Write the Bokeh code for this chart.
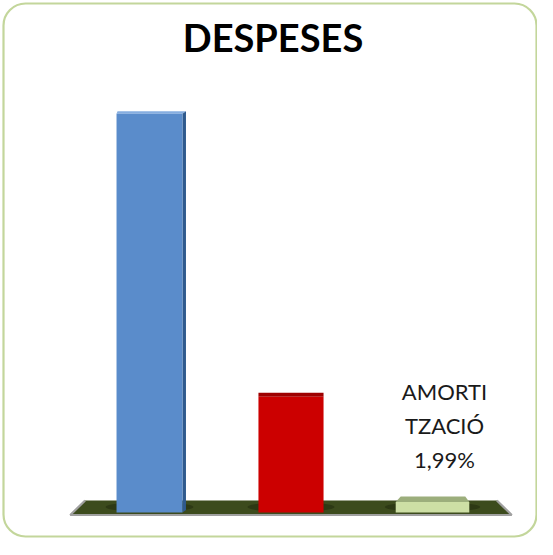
from bokeh.plotting import figure
from bokeh.models import Range1d
from bokeh.core.properties import value
from bokeh.embed import file_html
from bokeh.resources import INLINE

# ---------------- data ----------------
title_text = "DESPESES"
categories = ["DESPESA 1", "DESPESA 2", "AMORTITZACIÓ"]
values = [75.8, 22.0, 1.99]                     # percent
label_lines = [[], [], ["AMORTI", "TZACIÓ", "1,99%"]]

# ---------------- styles ----------------
front_colors = ["#5a8ccb", "#cc0000", "#cddfa5"]
top_colors = ["#86aee0", "#9e0000", "#9cae7c"]
side_colors = ["#2f5a8e", "#8e0000", "#9cae7c"]
bar_widths = [0.466, 0.46, 0.52]
# 3D box geometry per bar (pixels): depth of top face, shift of back-left, back-right edges
box_depth_px = [2.5, 4.0, 5.5]
back_left_px = [1.0, 0.0, 5.0]
back_right_px = [3.5, 0.0, -4.0]

W, H = 537, 539
PPX = 141.5          # pixels per category step
PPY = 5.26           # pixels per percent
X0_PX = 149.0        # pixel position (in frame) of the first category
BASE_PX = 512.0      # pixel position (in frame) of value 0

def px_x(px):
    return (px - X0_PX) / PPX

def px_y(px):
    return (BASE_PX - px) / PPY

p = figure(width=W, height=H, output_backend="svg", toolbar_location=None,
           min_border=0, min_border_left=0, min_border_right=0,
           min_border_top=0, min_border_bottom=0)
p.x_range = Range1d(px_x(0), px_x(W))
p.y_range = Range1d(px_y(H), px_y(0))
p.axis.visible = False
p.grid.visible = False
p.outline_line_color = None
p.background_fill_color = "white"
p.border_fill_color = "white"

# rounded chart border
p.quad(left=[px_x(3)], right=[px_x(536)], top=[px_y(3)], bottom=[px_y(536)],
       fill_color=None, line_color="#c3d69b", line_width=2.2, border_radius=22)

n = len(categories)
xs = list(range(n))
mid = (n - 1) / 2.0

# floor
front_half = (n / 2.0) + 0.06
back_half = (n / 2.0) - 0.045
floor_front = -2.5 / PPY
floor_back = 12.0 / PPY
p.patch([mid - front_half, mid + front_half, mid + back_half, mid - back_half],
        [floor_front, floor_front, floor_back, floor_back],
        fill_color="#3c4b1d", line_color=None)
p.line([mid - back_half, mid - front_half, mid + front_half, mid + back_half],
       [floor_back, floor_front, floor_front, floor_back],
       line_color="#a0a0a0", line_width=2.2)

# shadows on floor around bar feet
p.ellipse(x=xs, y=[5.5 / PPY] * n, width=[w + 22 / PPX for w in bar_widths],
          height=[10.0 / PPY] * n, fill_color="#1b240b", fill_alpha=0.45,
          line_color=None)

# 3D faces
for i, v in enumerate(values):
    w = bar_widths[i]
    l, r = i - w / 2, i + w / 2
    d = box_depth_px[i] / PPY
    bl = l + back_left_px[i] / PPX
    br = r + back_right_px[i] / PPX
    p.patch([l, r, br, bl], [v, v, v + d, v + d],
            fill_color=top_colors[i], line_color=None)
    if back_right_px[i] > 0:
        p.patch([r, br, br, r], [0, d, v + d, v],
                fill_color=side_colors[i], line_color=None)
    if back_left_px[i] < 0:
        p.patch([l, bl, bl, l], [0, d, v + d, v],
                fill_color=side_colors[i], line_color=None)

# front faces
p.vbar(x=xs, top=values, bottom=0, width=bar_widths, fill_color=front_colors,
       line_color=None)

# data labels
LABEL_GAP_PX = 43.0
LINE_STEP_PX = 34.0
LABEL_DX_PX = 12.0
for i, lines in enumerate(label_lines):
    k = len(lines)
    for j, t in enumerate(lines):
        off = LABEL_GAP_PX + (k - 1 - j) * LINE_STEP_PX
        p.text(x=[i + LABEL_DX_PX / PPX], y=[values[i] + off / PPY], text=[t],
               text_font=value("Lato"), text_font_size="22px",
               text_color="#1a1a1a", text_align="center",
               text_baseline="alphabetic")

# title
p.text(x=[(p.x_range.start + p.x_range.end) / 2 + 4 / PPX], y=[px_y(36)],
       text=[title_text], text_font=value("Lato"), text_font_style="bold",
       text_font_size="38px", text_color="#000000", text_align="center",
       text_baseline="alphabetic")

open("out.html", "w").write(file_html(p, INLINE))
